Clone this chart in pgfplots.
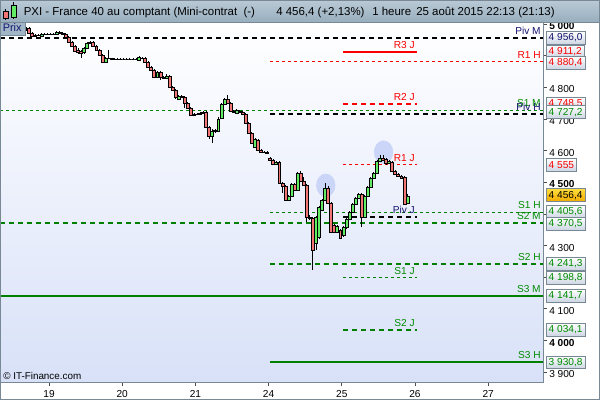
\documentclass[border=0pt]{standalone}
\usepackage{pgfplots}
\pgfplotsset{compat=1.18}
\usepackage{pgfplotstable}
\usepackage{fontspec}
\setmainfont{Liberation Sans}

\definecolor{lvlred}{RGB}{250,0,0}
\definecolor{lvlgreen}{RGB}{0,128,0}
\definecolor{txtgreen}{RGB}{0,140,0}
\definecolor{pivtext}{RGB}{20,20,110}
\definecolor{candup}{RGB}{100,235,100}
\definecolor{canddn}{RGB}{242,118,118}
\definecolor{hdrtop}{RGB}{186,202,214}
\definecolor{hdrbot}{RGB}{152,174,190}
\definecolor{frame}{RGB}{120,136,148}
\definecolor{bgbot}{RGB}{216,225,248}
\definecolor{circ}{RGB}{202,213,247}
\definecolor{boxbot}{RGB}{205,214,228}

% hourly candles, X = hours from 19 Aug 00:00 (trading days only)
\pgfplotstableread{
X O H L C
-14.5 4987 4992 4983 4990
-12.5 4986 4992 4982 4989
-10.5 4983 4990 4980 4988
-8.5 4984 4989 4980 4986
-7.5 4984 4990 4978 4987
-4.5 4962 4968 4959 4965
-2.5 4962 4972 4959 4968
2.5 4968 4978 4967 4975
11.5 4911 4927 4905 4924
12.5 4924 4943 4921 4940
13.5 4940 4946 4937 4943
18.5 4880 4895 4877 4892
29.5 4886 4899 4883 4896
35.5 4832 4851 4829 4848
38.5 4829 4842 4826 4836
42.5 4763 4775 4760 4772
47.5 4712 4719 4709 4716
49.5 4716 4721 4714 4719
50.5 4719 4725 4716 4722
53.5 4646 4668 4624 4662
54.5 4662 4668 4655 4665
55.5 4662 4706 4659 4700
56.5 4703 4750 4700 4747
57.5 4747 4766 4744 4763
61.5 4719 4731 4716 4728
67.5 4611 4640 4608 4637
74.5 4558 4567 4554 4564
78.5 4444 4460 4440 4457
79.5 4457 4498 4453 4494
81.5 4475 4532 4472 4529
87.5 4308 4393 4286 4390
88.5 4327 4424 4320 4422
89.5 4412 4447 4409 4444
90.5 4444 4498 4441 4482
94.5 4343 4365 4339 4362
96.5 4333 4362 4327 4358
97.5 4358 4390 4352 4384
98.5 4384 4409 4380 4406
99.5 4406 4434 4402 4431
100.5 4431 4453 4428 4450
101.5 4450 4466 4447 4463
103.5 4390 4460 4387 4456
104.5 4456 4488 4453 4485
105.5 4485 4516 4482 4513
106.5 4513 4532 4510 4529
107.5 4529 4570 4526 4567
108.5 4567 4586 4564 4577
111.5 4561 4570 4557 4567
117.5 4434 4462 4431 4456.4
}\upc

\pgfplotstableread{
X O H L C
-13.5 4990 4994 4984 4986
-11.5 4989 4992 4980 4983
-9.5 4988 4991 4981 4984
-6.5 4987 4990 4968 4972
-5.5 4972 4975 4959 4962
-3.5 4965 4968 4961 4964
-1.5 4968 4970 4967 4968
-0.5 4968 4970 4967 4968
0.5 4968 4970 4967 4968
1.5 4968 4970 4966 4968
3.5 4975 4978 4970 4972
4.5 4972 4975 4966 4968
5.5 4968 4972 4956 4959
6.5 4959 4962 4940 4943
7.5 4943 4946 4927 4931
8.5 4931 4934 4911 4915
9.5 4918 4924 4905 4911
10.5 4914 4918 4892 4908
14.5 4943 4946 4927 4930
15.5 4930 4934 4915 4918
16.5 4918 4921 4899 4902
17.5 4902 4905 4877 4880
19.5 4892 4918 4889 4892
20.5 4892 4894 4886 4889
21.5 4889 4891 4887 4889
22.5 4889 4891 4887 4889
23.5 4889 4891 4887 4889
24.5 4889 4891 4887 4889
25.5 4889 4891 4887 4889
26.5 4889 4891 4887 4889
27.5 4889 4891 4887 4889
28.5 4889 4891 4887 4889
30.5 4892 4896 4889 4892
31.5 4892 4896 4877 4880
32.5 4880 4883 4861 4864
33.5 4864 4867 4851 4855
34.5 4855 4858 4829 4832
36.5 4848 4852 4823 4832
37.5 4832 4836 4826 4829
39.5 4836 4839 4798 4801
40.5 4801 4804 4788 4791
41.5 4791 4795 4763 4769
43.5 4772 4776 4766 4769
44.5 4769 4772 4734 4750
45.5 4750 4753 4731 4734
46.5 4734 4738 4709 4712
48.5 4716 4719 4712 4716
51.5 4722 4725 4671 4675
52.5 4675 4678 4637 4646
58.5 4763 4776 4747 4750
59.5 4750 4754 4722 4725
60.5 4725 4729 4719 4722
62.5 4725 4729 4718 4722
63.5 4722 4725 4712 4716
64.5 4716 4719 4684 4687
65.5 4687 4690 4652 4656
66.5 4656 4659 4621 4624
68.5 4633 4637 4599 4602
69.5 4602 4605 4592 4595
70.5 4595 4598 4592 4595
71.5 4595 4598 4589 4592
72.5 4577 4580 4567 4570
73.5 4570 4573 4554 4558
75.5 4564 4567 4494 4498
76.5 4498 4501 4466 4488
77.5 4488 4491 4441 4444
80.5 4494 4498 4472 4475
82.5 4529 4535 4500 4504
83.5 4504 4516 4488 4491
84.5 4491 4494 4374 4390
85.5 4390 4396 4380 4387
86.5 4387 4390 4222 4286
91.5 4482 4488 4431 4434
92.5 4434 4437 4339 4343
93.5 4365 4368 4339 4343
95.5 4349 4352 4320 4324
102.5 4463 4466 4358 4390
109.5 4577 4586 4567 4570
110.5 4573 4577 4554 4561
112.5 4564 4567 4532 4536
113.5 4536 4539 4523 4526
114.5 4526 4529 4516 4520
115.5 4520 4523 4510 4513
116.5 4516 4520 4428 4431
}\dnc

% 270pt axis height / (5006.3 - 3868.5) price units = 0.2373 pt per point
\pgfplotsset{
  candle/.style={
    scatter, only marks, mark=*, mark size=0pt, mark options={draw=none, fill=none},
    point meta=explicit, point meta=0,
    visualization depends on={\thisrow{O}\as\vo},
    visualization depends on={\thisrow{H}\as\vh},
    visualization depends on={\thisrow{L}\as\vl},
    visualization depends on={\thisrow{C}\as\vc},
    scatter/@pre marker code/.code={%
      \begingroup
      \pgfmathsetmacro\yo{(\vo-\vc)*0.2373}%
      \pgfmathsetmacro\yh{(\vh-\vc)*0.2373}%
      \pgfmathsetmacro\yl{(\vl-\vc)*0.2373}%
      \draw[black, line width=0.55pt] (0pt,\yl pt) -- (0pt,\yh pt);
      \filldraw[fill=#1, draw=black, line width=0.42pt] (-1.1pt,0pt) rectangle (1.1pt,\yo pt);
    },
    scatter/@post marker code/.code={\endgroup},
  },
  thickdash/.style={line width=1.5pt, dash pattern=on 3.75pt off 3pt, mark=none},
  thindash/.style={line width=0.75pt, dash pattern=on 2.25pt off 2.25pt, mark=none},
  solidlvl/.style={line width=1.5pt, solid, mark=none},
}

\begin{document}
\begin{tikzpicture}[
  lbl/.style={anchor=base east, inner sep=0pt, font=\fontsize{7.6}{9}\selectfont},
  vbox/.style={draw=frame, line width=0.5pt, top color=white, bottom color=boxbot,
     inner xsep=1.8pt, inner ysep=0pt, minimum height=9.6pt, anchor=west,
     font=\fontsize{7.6}{9}\selectfont}]
\path[use as bounding box] (0,0) rectangle (450pt,300pt);
\fill[white] (0,0) rectangle (450pt,300pt);

\begin{axis}[
  at={(0pt,13.5pt)}, anchor=south west, scale only axis,
  width=407.25pt, height=270pt,
  xmin=-16.07, xmax=161.97, ymin=3868.5, ymax=5006.3,
  clip=false,
  axis background/.style={shade, top color=white, bottom color=bgbot},
  xtick={0,24,48,72,96,120,144}, xticklabels={19,20,21,24,25,26,27},
  ytick={3900,4000,4100,4200,4300,4400,4500,4600,4700,4800,4900,5000},
  yticklabels={3 900,\textbf{4 000},4 100,,4 300,,\textbf{4 500},4 600,4 700,4 800,,\textbf{5 000}},
  xtick pos=bottom, ytick pos=right, yticklabel pos=right,
  tick align=outside, major tick length=3pt,
  tick style={draw=black!70, line width=0.5pt},
  axis line style={draw=frame, line width=0.75pt},
  tick label style={font=\fontsize{7.6}{9}\selectfont},
  yticklabel style={anchor=west, inner sep=0pt, xshift=1.5pt, yshift=-1.6pt},
  xticklabel style={anchor=north, inner sep=0pt, yshift=-3pt},
  /pgf/number format/assume math mode=true,
]
% highlight ellipses
\addplot[only marks, mark=*, mark size=8.5pt, mark options={draw=circ, fill=circ, xscale=0.82}]
  coordinates {(90.75,4490) (109.7,4595)};

% candles
\addplot[candle=canddn] table[x=X, y=C] {\dnc};
\addplot[candle=candup] table[x=X, y=C] {\upc};

% monthly levels
\addplot[black, thickdash] coordinates {(-16.07,4956.0) (161.97,4956.0)};
\addplot[lvlgreen, thindash] coordinates {(-16.07,4727.2) (161.97,4727.2)};
\addplot[lvlgreen, thickdash] coordinates {(-16.07,4370.5) (161.97,4370.5)};
\addplot[lvlgreen, solidlvl] coordinates {(-16.07,4141.7) (161.97,4141.7)};
% weekly levels
\addplot[lvlred, thindash] coordinates {(72.4,4880.4) (161.97,4880.4)};
\addplot[black, thickdash] coordinates {(72.4,4716.0) (161.97,4716.0)};
\addplot[lvlgreen, thindash] coordinates {(72.4,4405.6) (161.97,4405.6)};
\addplot[lvlgreen, thickdash] coordinates {(72.4,4241.3) (161.97,4241.3)};
\addplot[lvlgreen, solidlvl] coordinates {(72.4,3930.8) (161.97,3930.8)};
% daily levels
\addplot[lvlred, solidlvl] coordinates {(96.4,4911.2) (120.6,4911.2)};
\addplot[lvlred, thickdash] coordinates {(96.4,4748.5) (120.6,4748.5)};
\addplot[lvlred, thindash] coordinates {(96.4,4555.0) (120.6,4555.0)};
\addplot[black, thickdash] coordinates {(96.4,4391.5) (120.6,4391.5)};
\addplot[lvlgreen, thindash] coordinates {(96.4,4198.8) (120.6,4198.8)};
\addplot[lvlgreen, thickdash] coordinates {(96.4,4034.1) (120.6,4034.1)};

% level labels
\node[lbl, text=pivtext, yshift=2.6pt] at (axis cs:161.3,4956.0) {Piv M};
\node[lbl, text=lvlred, yshift=2.6pt] at (axis cs:161.3,4880.4) {R1 H};
\node[lbl, text=txtgreen, yshift=2.6pt] at (axis cs:161.3,4727.2) {S1 M};
\node[lbl, text=pivtext, yshift=2.6pt] at (axis cs:161.3,4716.0) {Piv H};
\node[lbl, text=txtgreen, yshift=2.6pt] at (axis cs:161.3,4405.6) {S1 H};
\node[lbl, text=txtgreen, yshift=2.6pt] at (axis cs:161.3,4370.5) {S2 M};
\node[lbl, text=txtgreen, yshift=2.6pt] at (axis cs:161.3,4241.3) {S2 H};
\node[lbl, text=txtgreen, yshift=2.6pt] at (axis cs:161.3,4141.7) {S3 M};
\node[lbl, text=txtgreen, yshift=2.6pt] at (axis cs:161.3,3930.8) {S3 H};
\node[lbl, text=lvlred, yshift=2.6pt] at (axis cs:120.0,4911.2) {R3 J};
\node[lbl, text=lvlred, yshift=2.6pt] at (axis cs:120.0,4748.5) {R2 J};
\node[lbl, text=lvlred, yshift=2.6pt] at (axis cs:120.0,4555.0) {R1 J};
\node[lbl, text=pivtext, yshift=2.6pt] at (axis cs:120.0,4391.5) {Piv J};
\node[lbl, text=txtgreen, yshift=2.6pt] at (axis cs:120.0,4198.8) {S1 J};
\node[lbl, text=txtgreen, yshift=2.6pt] at (axis cs:120.0,4034.1) {S2 J};
\end{axis}

% value boxes on the price scale (overlay axis with the same scale)
\begin{axis}[
  at={(0pt,13.5pt)}, anchor=south west, scale only axis,
  width=407.25pt, height=270pt,
  xmin=-16.07, xmax=161.97, ymin=3868.5, ymax=5006.3,
  clip=false, hide axis]
\node[vbox, text=pivtext, xshift=2.2pt] at (axis cs:161.97,4956.0) {4 956,0};
\node[vbox, text=lvlred, xshift=2.2pt] at (axis cs:161.97,4913.0) {4 911,2};
\node[vbox, text=lvlred, xshift=2.2pt] at (axis cs:161.97,4878.0) {4 880,4};
\node[vbox, text=lvlred, xshift=2.2pt] at (axis cs:161.97,4747.0) {4 748,5};
\node[vbox, text=txtgreen, xshift=2.2pt] at (axis cs:161.97,4721.5) {4 727,2};
\node[vbox, text=lvlred, xshift=2.2pt] at (axis cs:161.97,4555.0) {4 555};
\node[vbox, text=black, top color={rgb,255:red,255;green,222;blue,60}, bottom color={rgb,255:red,240;green,170;blue,0}, xshift=2.2pt] at (axis cs:161.97,4459.0) {4 456,4};
\node[vbox, text=txtgreen, xshift=2.2pt] at (axis cs:161.97,4407.0) {4 405,6};
\node[vbox, text=txtgreen, xshift=2.2pt] at (axis cs:161.97,4369.0) {4 370,5};
\node[vbox, text=txtgreen, xshift=2.2pt] at (axis cs:161.97,4242.5) {4 241,3};
\node[vbox, text=txtgreen, xshift=2.2pt] at (axis cs:161.97,4197.5) {4 198,8};
\node[vbox, text=txtgreen, xshift=2.2pt] at (axis cs:161.97,4141.7) {4 141,7};
\node[vbox, text=txtgreen, xshift=2.2pt] at (axis cs:161.97,4034.1) {4 034,1};
\node[vbox, text=txtgreen, xshift=2.2pt] at (axis cs:161.97,3930.8) {3 930,8};
\end{axis}

% header, labels and frame (pixel coordinates, y downwards)
\begin{scope}[x=0.75pt, y=-0.75pt, shift={(0pt,300pt)}]
  \shade[top color=hdrtop, bottom color=hdrbot] (0,0) rectangle (600,22);
  \draw[frame, line width=0.5pt] (0,22) -- (600,22);
  % icon
  \draw[black, line width=0.5pt] (5.7,9) -- (5.7,20);
  \filldraw[fill=canddn, draw=black, line width=0.5pt] (3.5,11.5) rectangle (8,18.5);
  \draw[black, line width=0.5pt] (13.8,2.5) -- (13.8,19);
  \filldraw[fill=candup, draw=black, line width=0.5pt] (11,5) rectangle (16.5,17.5);
  \begin{scope}[every node/.style={anchor=base west, inner sep=0pt, font=\fontsize{8.6}{10}\selectfont}]
    \node at (23.5,15.5) {PXI - France 40 au comptant (Mini-contrat\ \ (-)};
    \node at (276,15.5) {4 456,4 (+2,13\%)};
    \node at (372,15.5) {1 heure};
    \node at (416,15.5) {25 août 2015 22:13 (21:13)};
  \end{scope}
  % Prix tab
  \filldraw[fill={rgb,255:red,160;green,182;blue,198}, draw=frame, line width=0.5pt] (0.5,22) rectangle (25,35.5);
  \node[anchor=base west, inner sep=0pt, font=\fontsize{8.2}{10}\selectfont, text=pivtext] at (2.5,32) {Prix};
  % copyright
  \node[anchor=base west, inner sep=0pt, font=\fontsize{7.4}{9}\selectfont] at (3,379) {© IT-Finance.com};
  % outer frame
  \draw[frame, line width=0.75pt] (0.5,0.5) rectangle (599.5,399.5);
\end{scope}
\end{tikzpicture}
\end{document}
